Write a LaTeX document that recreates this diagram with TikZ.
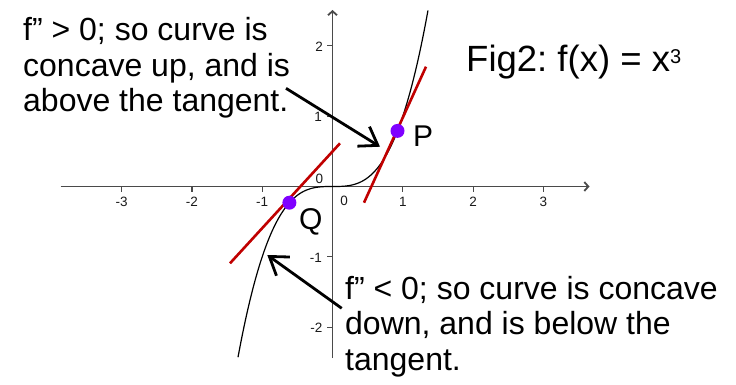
\documentclass[tikz,border=0pt]{standalone}
\usepackage{fontspec}
\setmainfont{Liberation Sans}
\usetikzlibrary{arrows.meta}
\definecolor{axisgray}{HTML}{4A4A4A}
\definecolor{tanred}{HTML}{C00000}
\definecolor{ptviolet}{HTML}{7F00FF}
\definecolor{labgray}{HTML}{1A1A1A}
\frenchspacing
\begin{document}
\begin{tikzpicture}[x=1pt,y=-1pt,
  axisline/.style={draw=axisgray, line width=1.8pt, -{Straight Barb[length=4pt,width=9pt]}},
  tickmark/.style={draw=axisgray, line width=1.2pt},
  ticklabel/.style={font=\fontsize{13.5}{14}\selectfont, text=labgray, inner sep=0pt},
  tangentline/.style={draw=tanred, line width=2.6pt},
  curveline/.style={draw=black, line width=1.2pt},
  ptdot/.style={circle, fill=ptviolet, minimum size=14pt, inner sep=0pt},
  note/.style={font=\fontsize{32}{35.5}\selectfont, align=left, inner sep=0pt, anchor=base west},
  ptlabel/.style={font=\fontsize{30}{32}\selectfont, inner sep=0pt, anchor=base west},
  callout/.style={line width=2.8pt, -{Straight Barb[length=17pt,width=23pt]}}
]
\useasboundingbox (0,0) rectangle (736,385);
% axes
\coordinate (xs) at (60.6,186.5);
\coordinate (xe) at (589.5,186.5);
\coordinate (ys) at (332.5,358);
\coordinate (ye) at (332.5,10);
\draw[axisline] (xs) -- (xe);
\draw[axisline] (ys) -- (ye);
% x ticks
\foreach \k/\lab in {-3/-3,-2/-2,-1/-1,1/1,2/2,3/3}{
  \draw[tickmark] ({332.5+70.3*\k},186.5) -- ({332.5+70.3*\k},191.7);
  \node[ticklabel, anchor=base] (xl\k) at ({332.5+70.3*\k},206.7) {\lab};
}
% y ticks
\foreach \k in {-2,-1,1,2}{
  \draw[tickmark] (332.5,{186.5-70.3*\k}) -- (327.3,{186.5-70.3*\k});
}
\node[ticklabel, anchor=base east] (yl2) at (323,51.5) {2};
\node[ticklabel, anchor=base east] (yl1) at (322,121.7) {1};
\node[ticklabel, anchor=base east] (ylm1) at (322,262) {-1};
\node[ticklabel, anchor=base east] (ylm2) at (322.5,332.3) {-2};
\node[ticklabel, anchor=base] (zerob) at (344,205.3) {0};
\node[ticklabel, anchor=base] (zeroa) at (319.3,183.4) {0};
% curve
\draw[curveline] plot[domain=-1.344:1.359, samples=120, smooth] ({332.5+70.3*\x}, {186.5-70.3*\x*\x*\x});
% tangents
\coordinate (tP1) at (364,202.7);
\coordinate (tP2) at (426,66.7);
\coordinate (tQ1) at (230,263.3);
\coordinate (tQ2) at (340,143.3);
\draw[tangentline] (tP1) -- (tP2);
\draw[tangentline] (tQ1) -- (tQ2);
% points
\node[ptdot] (P) at (397.5,130.9) {};
\node[ptdot] (Q) at (289.4,202.7) {};
\node[ptlabel] (Plab) at (413,146.7) {P};
\node[ptlabel] (Qlab) at (299,229) {Q};
% texts (base anchor = baseline of last line)
\node[note] (upnote) at (23,112) {f” > 0; so curve is\\concave up, and is\\above the tangent.};
\node[note] (downnote) at (345,370) {f” < 0; so curve is concave\\down, and is below the\\tangent.};
\node[font=\fontsize{36.5}{40}\selectfont, inner sep=0pt, anchor=base west] (fig) at (466,71.7) {Fig2: f(x) = x\raisebox{8pt}{\fontsize{20}{20}\selectfont 3}};
% callout arrows
\coordinate (a1s) at (286,88.3);
\coordinate (a1e) at (380,146.7);
\coordinate (a2s) at (341.7,308.3);
\coordinate (a2e) at (267.3,255);
\draw[callout] (a1s) -- (a1e);
\draw[callout] (a2s) -- (a2e);
\end{tikzpicture}
\end{document}
